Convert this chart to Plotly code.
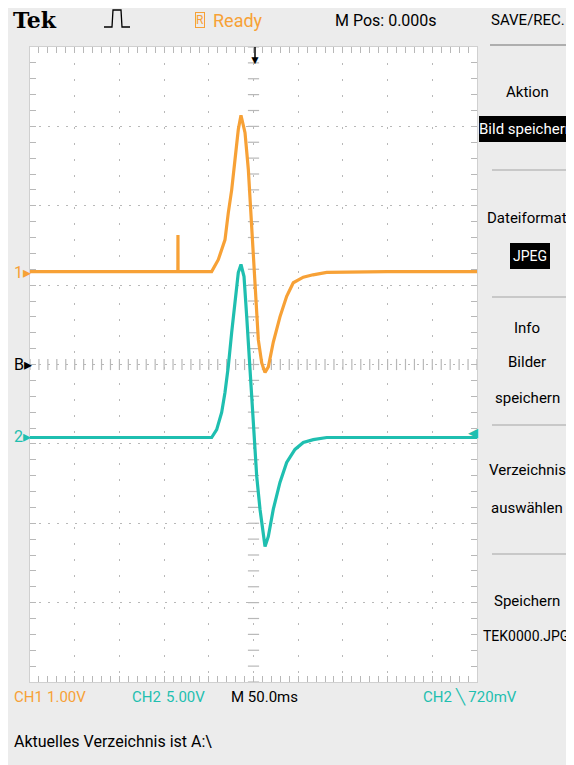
import plotly.graph_objects as go
import numpy as np

# ---------------- data (time in ms, voltage in V) ----------------
ch1_t = [-250, -120, -84.6, -84.5, -84.4, -60, -46.8, -39.4, -31.9, -28.2, -24.4, -20.7, -17.0, -14.0,
         -9.5, -5.8, -2.8, -1.1, 2.2, 5.4, 9.2, 12.9, 16.6, 22.1, 29.6, 37.1, 44.5, 55.7, 66.6, 81.9, 150, 250]
ch1_v = [0.0, 0.0, 0.0, 0.46, 0.0, 0.0, 0.0, 0.15, 0.40, 0.74, 1.03, 1.41, 1.79, 1.97,
         1.75, 1.29, 0.74, 0.28, -0.29, -0.86, -1.15, -1.27, -1.20, -0.89, -0.57, -0.31, -0.14, -0.07, -0.04, -0.01, 0.0, 0.0]

ch2_t = [-250, -120, -46.8, -41.2, -35.6, -31.9, -28.2, -24.4, -20.7, -17.0, -14.0, -10.6, -7.6, -3.9,
         -0.9, 0.6, 3.6, 7.3, 10.3, 12.9, 16.6, 22.1, 29.6, 37.1, 46.4, 55.7, 66.9, 81.9, 150, 250]
ch2_v = [0.0, 0.0, 0.0, 0.50, 1.58, 2.84, 4.47, 6.62, 8.69, 10.39, 10.90, 10.14, 7.62, 4.47,
         1.77, -0.13, -2.45, -4.53, -5.98, -6.86, -6.23, -4.53, -2.83, -1.57, -0.75, -0.31, -0.13, 0.0, 0.0, 0.0]

ch1_scale = 1.00   # V/div
ch2_scale = 5.00   # V/div
ch1_offset = 1.17  # div
ch2_offset = -0.92 # div
time_div = 50.0    # ms/div

menu_items = [("Aktion", 92), ("Bild speichern", 129), ("Dateiformat", 218), ("JPEG", 256),
              ("Info", 328), ("Bilder", 362), ("speichern", 398), ("Verzeichnis", 470),
              ("auswählen", 508), ("Speichern", 601), ("TEK0000.JPG", 636)]

ORANGE = "#F7A136"
TEAL = "#1FBFB0"
GRID = "#B8B8B8"
FONT = "Roboto, Liberation Sans, sans-serif"

OFF = 8  # page body margin
W, H = 574 - OFF, 765 - OFF
def px(x):
    return (x - OFF) / W
def py(y):
    return (H - (y - OFF)) / H

fig = go.Figure()

# graticule centre-line ticks
cx = np.arange(-5, 5.001, 0.2) * time_div
cy = np.arange(-4, 4.001, 0.2)
fig.add_trace(go.Scatter(x=cx, y=np.zeros_like(cx), mode="markers", hoverinfo="skip",
                         marker=dict(symbol="line-ns", size=8, line=dict(color=GRID, width=1.2))))
fig.add_trace(go.Scatter(x=np.zeros_like(cy), y=cy, mode="markers", hoverinfo="skip",
                         marker=dict(symbol="line-ew", size=8, line=dict(color=GRID, width=1.2))))

# waveforms
fig.add_trace(go.Scatter(x=ch1_t, y=[v / ch1_scale + ch1_offset for v in ch1_v], mode="lines",
                         line=dict(color=ORANGE, width=3.2), hoverinfo="skip"))
fig.add_trace(go.Scatter(x=ch2_t, y=[v / ch2_scale + ch2_offset for v in ch2_v], mode="lines",
                         line=dict(color=TEAL, width=3.2), hoverinfo="skip"))

x0, x1, y0, y1 = 30, 477, 47, 682
fig.update_layout(
    width=W, height=H, margin=dict(l=0, r=0, t=0, b=0),
    paper_bgcolor="#ECECEC", plot_bgcolor="white", showlegend=False,
    xaxis=dict(domain=[px(x0), px(x1)], range=[-5 * time_div, 5 * time_div], dtick=time_div,
               showgrid=True, gridcolor=GRID, griddash="2px,14px", gridwidth=1,
               zeroline=False, showticklabels=False, showline=True, linecolor="#D0D0D0", mirror="ticks",
               ticks="inside", ticklen=6, tickcolor=GRID,
               minor=dict(dtick=time_div / 5, ticks="inside", ticklen=6, tickcolor=GRID),
               fixedrange=True),
    yaxis=dict(domain=[py(y1), py(y0)], range=[-4, 4], dtick=1,
               showgrid=True, gridcolor=GRID, griddash="2px,7px", gridwidth=1,
               zeroline=False, showticklabels=False, showline=True, linecolor="#D0D0D0", mirror="ticks",
               ticks="inside", ticklen=6, tickcolor=GRID,
               minor=dict(dtick=0.2, ticks="inside", ticklen=6, tickcolor=GRID),
               fixedrange=True),
)

ann = []
shapes = []
def text(x, y, s, color="black", size=16, xanchor="left", family=FONT, **kw):
    ann.append(dict(x=px(x), y=py(y), xref="paper", yref="paper", text=s, showarrow=False,
                    xanchor=xanchor, yanchor="middle", font=dict(color=color, size=size, family=family), **kw))
def rect(xa, ya, xb, yb, color):
    shapes.append(dict(type="rect", xref="paper", yref="paper", x0=px(xa), x1=px(xb), y0=py(yb), y1=py(ya),
                       fillcolor=color, line=dict(width=0), layer="below"))

# header
text(11, 20, "<b>Tek</b>", size=22, family="DejaVu Serif, Liberation Serif, serif")
text(200, 20, "R", color=ORANGE, size=12, xanchor="center", bordercolor=ORANGE, borderwidth=1, borderpad=0)
text(211, 20, "Ready", color=ORANGE, size=18)
text(333, 20, "M Pos: 0.000s", size=16)
text(489, 20, "SAVE/REC.", size=15)

# right menu
rect(479, 116, 574, 142, "black")
rect(510, 243, 550, 269, "black")
for s, y in menu_items:
    if s == "Bild speichern":
        text(526, y, s, color="white", size=15, xanchor="center")
    elif s == "JPEG":
        text(530, y, s, color="white", size=14, xanchor="center")
    elif s == "TEK0000.JPG":
        text(526, y, s, size=14, xanchor="center")
    else:
        text(527, y, s, size=15, xanchor="center")
for y in (170, 297, 425, 554):
    shapes.append(dict(type="line", xref="paper", yref="paper", x0=px(492), x1=px(566), y0=py(y), y1=py(y),
                       line=dict(color="#BDBDBD", width=1.5)))
shapes.append(dict(type="line", xref="paper", yref="paper", x0=px(490), x1=px(574), y0=py(45), y1=py(45),
                   line=dict(color="#9A9A9A", width=1.5)))

# trigger icon
shapes.append(dict(type="path", xref="paper", yref="paper",
                   path=f"M {px(104)} {py(27)} L {px(112)} {py(27)} L {px(113)} {py(10)} L {px(121)} {py(10)} "
                        f"L {px(122)} {py(27)} L {px(130)} {py(27)}",
                   line=dict(color="black", width=1.3)))

# footer
text(12, 697, "CH1", color=ORANGE, size=15)
text(45, 697, "1.00V", color=ORANGE, size=15)
text(130, 697, "CH2", color=TEAL, size=15)
text(164, 697, "5.00V", color=TEAL, size=15)
text(229, 697, "M 50.0ms", size=15)
text(421, 697, "CH2 ╲ 720mV", color=TEAL, size=15)
text(12, 741, "Aktuelles Verzeichnis ist A:\\", size=16)

# channel markers
text(12, 272, "1▸", color=ORANGE, size=16)
text(12, 365, "B▸", color="black", size=16)
text(12, 437, "2▸", color=TEAL, size=16)
text(466, 432, "◀", color=TEAL, size=13)
text(255, 60, "▼", color="black", size=12, xanchor="center")
shapes.append(dict(type="line", xref="paper", yref="paper", x0=px(255), x1=px(255), y0=py(47), y1=py(60),
                   line=dict(color="black", width=1.5)))

fig.update_layout(annotations=ann, shapes=shapes)
fig.write_html("out.html")
